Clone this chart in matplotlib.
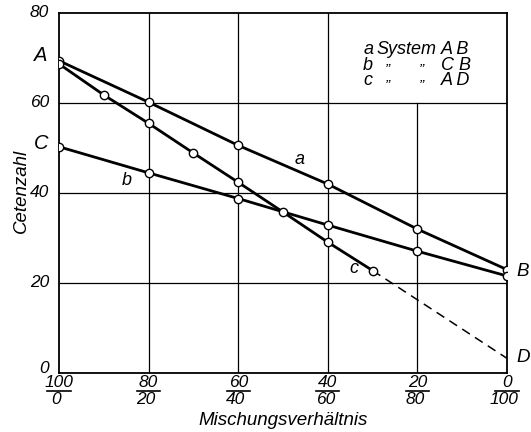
import matplotlib
matplotlib.use("Agg")
import matplotlib.pyplot as plt
from matplotlib.transforms import blended_transform_factory

plt.rcParams['font.family'] = ['Liberation Sans Narrow', 'Liberation Sans', 'DejaVu Sans']
plt.rcParams['font.style'] = 'italic'

# Share of the second component (%) and measured cetane numbers
x_a = [0, 20, 40, 60, 80, 100]
y_a = [69.3, 60.1, 50.5, 41.9, 31.9, 22.9]

x_b = [0, 20, 40, 60, 80, 100]
y_b = [50.2, 44.4, 38.7, 32.8, 27.0, 21.5]

x_c = [0, 10, 20, 30, 40, 50, 60, 70]
y_c = [68.6, 61.7, 55.4, 48.8, 42.3, 35.7, 29.0, 22.7]

# extrapolation of curve c towards pure component D
x_c_ext = [70, 100]
y_c_ext = [22.7, 3.2]

ratio_top = ["100", "80", "60", "40", "20", "0"]
ratio_bottom = ["0", "20", "40", "60", "80", "100"]
ratio_pos = [0, 20, 40, 60, 80, 100]
y_ticks = [0, 20, 40, 60, 80]

key_letters = ["a", "b", "c"]
key_systems = ["A B", "C B", "A D"]

fig = plt.figure(figsize=(5.31, 4.32), dpi=100)
ax = fig.add_axes([0.111, 0.137, 0.844, 0.834])
ax.set_xlim(0, 100)
ax.set_ylim(0, 80)

# grid (the x=80 line stops below the key area)
for gx in ratio_pos[1:-1]:
    ax.axvline(gx, ymax=0.75 if gx == 80 else 1.0, color='black', lw=0.9, zorder=1)
for gy in y_ticks[1:-1]:
    ax.axhline(gy, color='black', lw=0.9, zorder=1)
for s in ax.spines.values():
    s.set_linewidth(1.3)

mk = dict(marker='o', markersize=6, markerfacecolor='white',
          markeredgecolor='black', markeredgewidth=1.0)
ax.plot(x_a, y_a, color='black', lw=2.0, zorder=3, **mk)
ax.plot(x_b, y_b, color='black', lw=2.0, zorder=3, **mk)
ax.plot(x_c, y_c, color='black', lw=2.0, zorder=3, **mk)
ax.plot(x_c_ext, y_c_ext, color='black', lw=1.1, ls=(0, (6, 4)), zorder=2)

ax.set_xticks([])
ax.set_yticks([])

# value labels on the ordinate
for v in y_ticks:
    ax.text(-2.2, v + (1.0 if v == 0 else 0.0), str(v), ha='right', va='center',
            fontsize=12.5, clip_on=False)

# fraction-style mixing-ratio labels
tr = blended_transform_factory(ax.transData, ax.transAxes)
for pos, top, bot in zip(ratio_pos, ratio_top, ratio_bottom):
    ax.text(pos, -0.026, top, transform=tr, ha='center', va='center', fontsize=12.5)
    ax.text(pos - 0.6, -0.074, bot, transform=tr, ha='center', va='center', fontsize=12.5)
    ax.plot([pos - 2.6, pos + 2.6], [-0.05, -0.05], transform=tr, color='black',
            lw=1.2, clip_on=False)

ax.text(0.5, -0.132, "Mischungsverhältnis", transform=ax.transAxes,
        ha='center', va='center', fontsize=13.5)
fig.text(0.041, 0.558, "Cetenzahl", rotation=90, ha='center', va='center', fontsize=13.5)

# end-point and curve letters
ax.text(-4.0, 70.5, "A", ha='center', va='center', fontsize=14.5, clip_on=False)
ax.text(-4.0, 51.0, "C", ha='center', va='center', fontsize=14.5, clip_on=False)
ax.text(103.5, 22.5, "B", ha='center', va='center', fontsize=13.5, clip_on=False)
ax.text(103.5, 3.5, "D", ha='center', va='center', fontsize=13.5, clip_on=False)
ax.text(53.8, 47.4, "a", ha='center', va='center', fontsize=13)
ax.text(15.1, 42.8, "b", ha='center', va='center', fontsize=13)
ax.text(65.9, 23.1, "c", ha='center', va='center', fontsize=13)

# key: curve letter, system name, ditto marks for the repeated word
key_rows_y = [71.7, 68.2, 64.8]
for i, (letter, system, ky) in enumerate(zip(key_letters, key_systems, key_rows_y)):
    ax.text(67.9, ky, letter, ha='left', va='center', fontsize=13)
    if i == 0:
        ax.text(70.9, ky, "System", ha='left', va='center', fontsize=13)
    else:
        for dx in (73.4, 81.0):
            ax.text(dx, ky - 0.8, "\u201d", ha='center', va='center', fontsize=11)
    ax.text(85.3, ky, system, ha='left', va='center', fontsize=13)

fig.savefig("out.png", dpi=100)
